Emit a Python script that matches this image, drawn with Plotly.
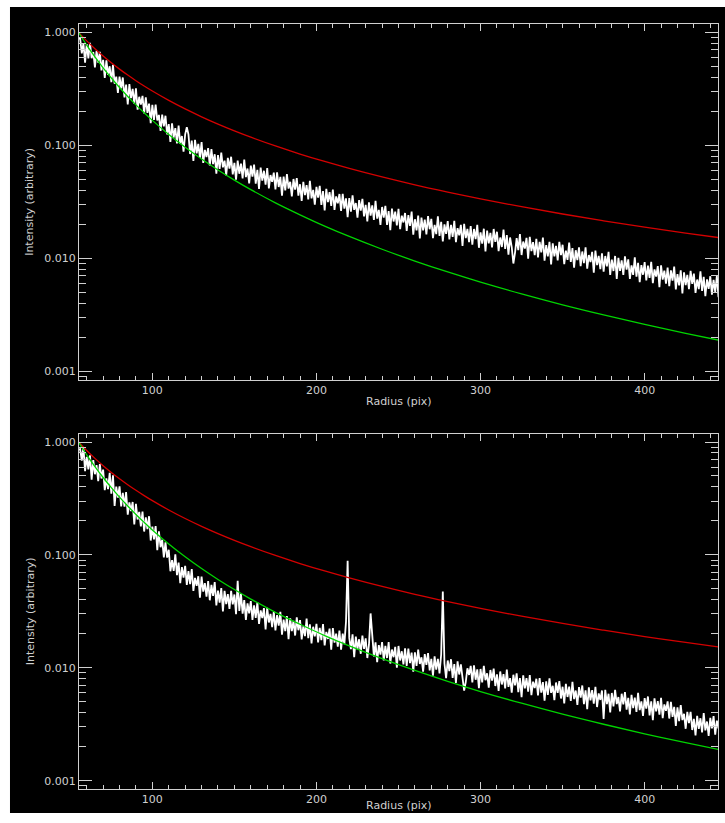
import plotly.graph_objects as go

# ---------------- data ----------------
radius = list(range(55, 446))

intensity_top = [
    0.880, 0.884, 0.653, 0.797, 0.539, 0.789, 0.589, 0.808, 0.591, 0.670,
    0.489, 0.686, 0.540, 0.672, 0.460, 0.572, 0.395, 0.566, 0.420, 0.501,
    0.363, 0.517, 0.351, 0.406, 0.291, 0.406, 0.320, 0.399, 0.266, 0.345,
    0.230, 0.349, 0.262, 0.316, 0.234, 0.320, 0.207, 0.269, 0.230, 0.274,
    0.192, 0.266, 0.194, 0.234, 0.157, 0.228, 0.168, 0.229, 0.166, 0.186,
    0.134, 0.187, 0.147, 0.183, 0.125, 0.154, 0.107, 0.157, 0.117, 0.142,
    0.104, 0.150, 0.103, 0.121, 0.088, 0.125, 0.145, 0.125, 0.0838, 0.110,
    0.0730, 0.112, 0.0851, 0.103, 0.0774, 0.107, 0.0700, 0.0913, 0.0789, 0.0944,
    0.0663, 0.0929, 0.0683, 0.0834, 0.0563, 0.0821, 0.0620, 0.0863, 0.0639, 0.0732,
    0.0543, 0.0776, 0.0624, 0.0793, 0.0554, 0.0699, 0.0497, 0.0734, 0.0561, 0.0689,
    0.0511, 0.0750, 0.0524, 0.0624, 0.0461, 0.0661, 0.0530, 0.0675, 0.0458, 0.0606,
    0.0411, 0.0637, 0.0487, 0.0596, 0.0450, 0.0630, 0.0416, 0.0546, 0.0476, 0.0573,
    0.0407, 0.0576, 0.0428, 0.0526, 0.0358, 0.0529, 0.0400, 0.0558, 0.0414, 0.0476,
    0.0353, 0.0504, 0.0405, 0.0514, 0.0359, 0.0453, 0.0322, 0.0476, 0.0363, 0.0445,
    0.0332, 0.0486, 0.0340, 0.0404, 0.0299, 0.0429, 0.0344, 0.0438, 0.0297, 0.0393,
    0.0266, 0.0412, 0.0315, 0.0385, 0.0291, 0.0407, 0.0268, 0.0353, 0.0307, 0.0371,
    0.0263, 0.0372, 0.0276, 0.0339, 0.0231, 0.0342, 0.0259, 0.0361, 0.0269, 0.0309,
    0.0229, 0.0328, 0.0264, 0.0336, 0.0235, 0.0297, 0.0212, 0.0313, 0.0239, 0.0294,
    0.0219, 0.0323, 0.0225, 0.0269, 0.0198, 0.0285, 0.0229, 0.0292, 0.0198, 0.0262,
    0.0178, 0.0276, 0.0212, 0.0259, 0.0196, 0.0274, 0.0181, 0.0239, 0.0208, 0.0252,
    0.0175, 0.0241, 0.0194, 0.0259, 0.0162, 0.0222, 0.0177, 0.0239, 0.0150, 0.0230,
    0.0177, 0.0220, 0.0163, 0.0237, 0.0181, 0.0224, 0.0151, 0.0198, 0.0164, 0.0235,
    0.0158, 0.0210, 0.0141, 0.0200, 0.0165, 0.0214, 0.0147, 0.0198, 0.0155, 0.0215,
    0.0139, 0.0185, 0.0160, 0.0198, 0.0129, 0.0202, 0.0151, 0.0182, 0.0139, 0.0193,
    0.0132, 0.0182, 0.0148, 0.0198, 0.0124, 0.0170, 0.0135, 0.0183, 0.0115, 0.0176,
    0.0136, 0.0168, 0.0125, 0.0182, 0.0140, 0.0172, 0.0116, 0.0153, 0.0126, 0.0180,
    0.0121, 0.0161, 0.0108, 0.0153, 0.0126, 0.0090, 0.0112, 0.0151, 0.0118, 0.0164,
    0.0107, 0.0141, 0.0122, 0.0152, 0.00993, 0.0155, 0.0116, 0.0139, 0.0107, 0.0149,
    0.0102, 0.0140, 0.0113, 0.0153, 0.00956, 0.0131, 0.0104, 0.0140, 0.00885, 0.0136,
    0.0104, 0.0129, 0.00958, 0.0140, 0.0107, 0.0132, 0.00888, 0.0117, 0.00968, 0.0138,
    0.00929, 0.0123, 0.00827, 0.0118, 0.00966, 0.0125, 0.00855, 0.0115, 0.00908, 0.0125,
    0.00810, 0.0107, 0.00927, 0.0114, 0.00748, 0.0117, 0.00871, 0.0105, 0.00802, 0.0111,
    0.00762, 0.0105, 0.00851, 0.0114, 0.00713, 0.00976, 0.00773, 0.0105, 0.00656, 0.0101,
    0.00776, 0.00959, 0.00713, 0.0104, 0.00794, 0.00979, 0.00659, 0.00867, 0.00715, 0.0102,
    0.00689, 0.00914, 0.00616, 0.00870, 0.00716, 0.00928, 0.00637, 0.00861, 0.00673, 0.00931,
    0.00603, 0.00799, 0.00690, 0.00853, 0.00557, 0.00869, 0.00649, 0.00779, 0.00597, 0.00829,
    0.00567, 0.00783, 0.00634, 0.00846, 0.00531, 0.00727, 0.00576, 0.00782, 0.00489, 0.00752,
    0.00579, 0.00715, 0.00533, 0.00775, 0.00594, 0.00733, 0.00494, 0.00650, 0.00535, 0.00767,
    0.00516, 0.00685, 0.00462, 0.00652, 0.00536, 0.00695, 0.00477, 0.00645, 0.00505, 0.00698,
    0.00454,
]

intensity_bottom = [
    0.860, 0.865, 0.685, 0.895, 0.551, 0.739, 0.572, 0.762, 0.464, 0.691,
    0.518, 0.623, 0.451, 0.637, 0.475, 0.570, 0.374, 0.477, 0.383, 0.533,
    0.348, 0.507, 0.271, 0.402, 0.321, 0.404, 0.269, 0.354, 0.268, 0.360,
    0.227, 0.292, 0.244, 0.294, 0.186, 0.283, 0.206, 0.240, 0.179, 0.242,
    0.161, 0.215, 0.169, 0.220, 0.134, 0.178, 0.137, 0.180, 0.110, 0.162,
    0.117, 0.136, 0.0949, 0.129, 0.0945, 0.111, 0.0716, 0.0900, 0.0723, 0.101,
    0.0661, 0.0854, 0.0561, 0.0778, 0.0629, 0.0800, 0.0541, 0.0718, 0.0551, 0.0750,
    0.0480, 0.0625, 0.0532, 0.0647, 0.0417, 0.0641, 0.0473, 0.0562, 0.0426, 0.0585,
    0.0396, 0.0542, 0.0433, 0.0573, 0.0356, 0.0482, 0.0378, 0.0509, 0.0316, 0.0481,
    0.0367, 0.0450, 0.0333, 0.0480, 0.0365, 0.0446, 0.0298, 0.0590, 0.0319, 0.0452,
    0.0302, 0.0398, 0.0265, 0.0372, 0.0304, 0.0390, 0.0266, 0.0357, 0.0277, 0.0381,
    0.0245, 0.0322, 0.0276, 0.0338, 0.0219, 0.0340, 0.0252, 0.0300, 0.0229, 0.0315,
    0.0214, 0.0293, 0.0236, 0.0313, 0.0196, 0.0267, 0.0211, 0.0287, 0.0179, 0.0274,
    0.0211, 0.0260, 0.0193, 0.0280, 0.0215, 0.0264, 0.0178, 0.0233, 0.0191, 0.0273,
    0.0183, 0.0243, 0.0164, 0.0231, 0.0190, 0.0245, 0.0168, 0.0226, 0.0176, 0.0244,
    0.0158, 0.0208, 0.0180, 0.0222, 0.0145, 0.0225, 0.0167, 0.0201, 0.0154, 0.0213,
    0.0145, 0.0201, 0.0162, 0.0255, 0.0885, 0.0184, 0.0146, 0.0198, 0.0124, 0.0189,
    0.0146, 0.0179, 0.0133, 0.0193, 0.0147, 0.0182, 0.0122, 0.0160, 0.0303, 0.0188,
    0.0126, 0.0168, 0.0112, 0.0159, 0.0131, 0.0169, 0.0116, 0.0156, 0.0122, 0.0169,
    0.0109, 0.0145, 0.0124, 0.0153, 0.0100, 0.0156, 0.0116, 0.0140, 0.0107, 0.0149,
    0.0104, 0.0148, 0.0110, 0.0136, 0.00924, 0.0137, 0.0104, 0.0145, 0.0108, 0.0124,
    0.00923, 0.0132, 0.0106, 0.0135, 0.00946, 0.0120, 0.00853, 0.0126, 0.00965, 0.0120,
    0.00893, 0.0131, 0.0474, 0.0109, 0.00808, 0.0116, 0.00933, 0.0119, 0.00812, 0.0108,
    0.00733, 0.0114, 0.00872, 0.0107, 0.00811, 0.00628, 0.00751, 0.00990, 0.00864, 0.0104,
    0.00743, 0.0105, 0.00783, 0.00967, 0.00659, 0.00976, 0.00743, 0.0104, 0.00775, 0.00893,
    0.00666, 0.00956, 0.00770, 0.00983, 0.00689, 0.00876, 0.00625, 0.00927, 0.00711, 0.00877,
    0.00655, 0.00965, 0.00678, 0.00810, 0.00602, 0.00868, 0.00698, 0.00893, 0.00608, 0.00809,
    0.00550, 0.00856, 0.00658, 0.00809, 0.00614, 0.00862, 0.00572, 0.00754, 0.00660, 0.00799,
    0.00570, 0.00810, 0.00603, 0.00746, 0.00510, 0.00757, 0.00576, 0.00806, 0.00600, 0.00692,
    0.00516, 0.00741, 0.00598, 0.00763, 0.00534, 0.00679, 0.00484, 0.00719, 0.00551, 0.00680,
    0.00508, 0.00750, 0.00527, 0.00629, 0.00468, 0.00675, 0.00544, 0.00697, 0.00475, 0.00632,
    0.00430, 0.00670, 0.00515, 0.00634, 0.00481, 0.00677, 0.00449, 0.00593, 0.00519, 0.00629,
    0.00352, 0.00638, 0.00476, 0.00589, 0.00403, 0.00598, 0.00455, 0.00637, 0.00476, 0.00550,
    0.00410, 0.00589, 0.00475, 0.00608, 0.00426, 0.00541, 0.00386, 0.00575, 0.00440, 0.00545,
    0.00407, 0.00600, 0.00421, 0.00504, 0.00374, 0.00539, 0.00434, 0.00557, 0.00379, 0.00505,
    0.00344, 0.00536, 0.00411, 0.00507, 0.00385, 0.00541, 0.00358, 0.00474, 0.00415, 0.00503,
    0.00355, 0.00499, 0.00368, 0.00450, 0.00305, 0.00447, 0.00337, 0.00466, 0.00344, 0.00391,
    0.00288, 0.00406, 0.00323, 0.00407, 0.00281, 0.00352, 0.00252, 0.00375, 0.00288, 0.00357,
    0.00268, 0.00396, 0.00279, 0.00334, 0.00249, 0.00360, 0.00290, 0.00373, 0.00255, 0.00340,
    0.00290,
]

model_radius = [55, 60, 65, 70, 75, 80, 85, 90, 95, 100, 110, 120, 130, 140, 150,
                160, 175, 190, 205, 220, 240, 260, 280, 300, 325, 350, 375, 400, 425, 445]
model_red = [1.0, 0.8403, 0.7160, 0.6173, 0.5378, 0.4727, 0.4187, 0.3735, 0.3352, 0.3025,
             0.25, 0.2101, 0.1790, 0.1543, 0.1344, 0.1182, 0.0988, 0.0838, 0.0720, 0.0625,
             0.0525, 0.0447, 0.0386, 0.0336, 0.02864, 0.02469, 0.02151, 0.01891, 0.01675, 0.01528]
model_green = [1.0, 0.7703, 0.6058, 0.4851, 0.3944, 0.3250, 0.2709, 0.2282, 0.1941, 0.1664,
               0.125, 0.0963, 0.0757, 0.0606, 0.0493, 0.0406, 0.0310, 0.0243, 0.0193, 0.01563,
               0.01204, 0.00947, 0.00758, 0.00616, 0.00485, 0.00388, 0.00316, 0.00260, 0.00217, 0.00189]

y_tickvals = [0.001, 0.01, 0.1, 1.0]
y_ticktext = ["0.001", "0.010", "0.100", "1.000"]
y_minorvals = [0.0009, 0.002, 0.003, 0.004, 0.005, 0.006, 0.007, 0.008, 0.009,
               0.02, 0.03, 0.04, 0.05, 0.06, 0.07, 0.08, 0.09,
               0.2, 0.3, 0.4, 0.5, 0.6, 0.7, 0.8, 0.9]
x_tickvals = [100, 200, 300, 400]
x_ticktext = ["100", "200", "300", "400"]
x_minorvals = [60, 70, 80, 90, 110, 120, 130, 140, 150, 160, 170, 180, 190,
               210, 220, 230, 240, 250, 260, 270, 280, 290,
               310, 320, 330, 340, 350, 360, 370, 380, 390,
               410, 420, 430, 440]

x_title = "Radius (pix)"
y_title = "Intensity (arbitrary)"

# ---------------- figure ----------------
AX = "#d0d0d0"
FONT = "DejaVu Sans"
FSIZE = 11

fig = go.Figure()
panels = [("x", "y", intensity_top), ("x2", "y2", intensity_bottom)]
for xa, ya, vals in panels:
    fig.add_trace(go.Scatter(x=radius, y=vals, mode="lines", xaxis=xa, yaxis=ya,
                             line=dict(color="white", width=1.8), showlegend=False))
    fig.add_trace(go.Scatter(x=model_radius, y=model_red, mode="lines", xaxis=xa, yaxis=ya,
                             line=dict(color="#d40000", width=1.3, shape="spline"), showlegend=False))
    fig.add_trace(go.Scatter(x=model_radius, y=model_green, mode="lines", xaxis=xa, yaxis=ya,
                             line=dict(color="#00d400", width=1.3, shape="spline"), showlegend=False))

xaxis_common = dict(range=[55.3, 444.7], showgrid=False, zeroline=False,
                    showline=True, linecolor=AX, linewidth=1, mirror="ticks",
                    ticks="inside", ticklen=7, tickwidth=1, tickcolor=AX,
                    tickmode="array", tickvals=x_tickvals, ticktext=x_ticktext,
                    minor=dict(ticks="inside", ticklen=4, tickwidth=1, tickcolor=AX,
                               tickmode="array", tickvals=x_minorvals, showgrid=False),
                    tickfont=dict(family=FONT, size=FSIZE, color=AX))
yaxis_common = dict(type="log", range=[-3.074, 0.074], showgrid=False, zeroline=False,
                    showline=True, linecolor=AX, linewidth=1, mirror="ticks",
                    ticks="inside", ticklen=13, tickwidth=1, tickcolor=AX,
                    tickmode="array", tickvals=y_tickvals, ticktext=y_ticktext,
                    minor=dict(ticks="inside", ticklen=7, tickwidth=1, tickcolor=AX,
                               tickmode="array", tickvals=y_minorvals, showgrid=False),
                    tickfont=dict(family=FONT, size=FSIZE, color=AX))

fig.update_layout(
    width=725, height=823,
    margin=dict(l=79, r=7, t=24, b=34),
    paper_bgcolor="white", plot_bgcolor="black",
    xaxis=dict(domain=[0, 1], anchor="y", **xaxis_common),
    yaxis=dict(domain=[0.535, 1.0], anchor="x", **yaxis_common),
    xaxis2=dict(domain=[0, 1], anchor="y2", **xaxis_common),
    yaxis2=dict(domain=[0.0, 0.4645], anchor="x2", **yaxis_common),
    shapes=[dict(type="rect", xref="paper", yref="paper", x0=-0.108, x1=1.02,
                 y0=-0.0314, y1=1.0222, fillcolor="black", line=dict(width=0),
                 layer="below")],
)

ann_font = dict(family=FONT, size=FSIZE, color=AX)
for xa, ya, ty in [("x", "y", -0.062), ("x2", "y2", -0.047)]:
    fig.add_annotation(text=x_title, xref=xa + " domain", yref=ya + " domain",
                       x=0.5, y=ty, showarrow=False, font=ann_font,
                       xanchor="center", yanchor="middle")
    fig.add_annotation(text=y_title, xref="paper", yref=ya + " domain",
                       x=-0.0767, y=0.5, showarrow=False, font=ann_font, textangle=-90,
                       xanchor="center", yanchor="middle")

fig.write_html("out.html")
